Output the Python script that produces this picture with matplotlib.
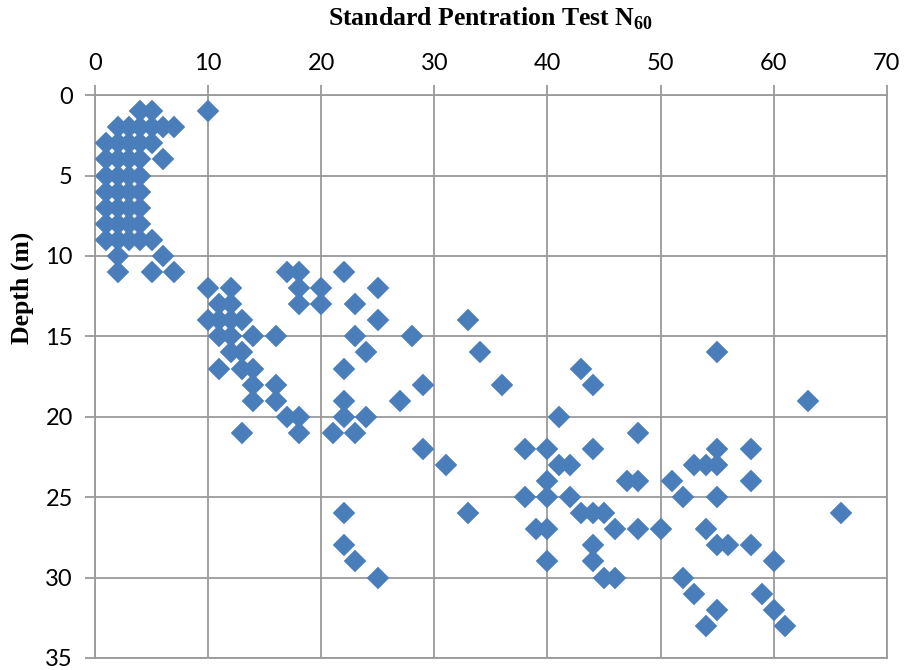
import matplotlib
matplotlib.use("Agg")
import matplotlib.pyplot as plt
from matplotlib import font_manager

# SPT N60 values, grouped by depth (m)
depth = [1, 1, 1,
         2, 2, 2, 2, 2, 2,
         3, 3, 3, 3, 3,
         4, 4, 4, 4, 4,
         5, 5, 5, 5,
         6, 6, 6, 6,
         7, 7, 7, 7,
         8, 8, 8, 8,
         9, 9, 9, 9, 9,
         10, 10,
         11, 11, 11, 11, 11, 11,
         12, 12, 12, 12, 12,
         13, 13, 13, 13, 13,
         14, 14, 14, 14, 14, 14,
         15, 15, 15, 15, 15, 15,
         16, 16, 16, 16, 16,
         17, 17, 17, 17, 17,
         18, 18, 18, 18, 18,
         19, 19, 19, 19, 19,
         20, 20, 20, 20, 20,
         21, 21, 21, 21, 21,
         22, 22, 22, 22, 22, 22,
         23, 23, 23, 23, 23, 23,
         24, 24, 24, 24, 24,
         25, 25, 25, 25, 25,
         26, 26, 26, 26, 26, 26,
         27, 27, 27, 27, 27, 27,
         28, 28, 28, 28, 28,
         29, 29, 29, 29,
         30, 30, 30, 30,
         31, 31,
         32, 32,
         33, 33]
n60 = [4, 5, 10,
       2, 3, 4, 5, 6, 7,
       1, 2, 3, 4, 5,
       1, 2, 3, 4, 6,
       1, 2, 3, 4,
       1, 2, 3, 4,
       1, 2, 3, 4,
       1, 2, 3, 4,
       1, 2, 3, 4, 5,
       2, 6,
       2, 5, 7, 17, 18, 22,
       10, 12, 18, 20, 25,
       11, 12, 18, 20, 23,
       10, 11, 12, 13, 25, 33,
       11, 12, 14, 16, 23, 28,
       12, 13, 24, 34, 55,
       11, 13, 14, 22, 43,
       14, 16, 29, 36, 44,
       14, 16, 22, 27, 63,
       17, 18, 22, 24, 41,
       13, 18, 21, 23, 48,
       29, 38, 40, 44, 55, 58,
       31, 41, 42, 53, 54, 55,
       40, 47, 48, 51, 58,
       38, 40, 42, 52, 55,
       22, 33, 43, 44, 45, 66,
       39, 40, 46, 48, 50, 54,
       22, 44, 55, 56, 58,
       23, 40, 44, 60,
       25, 45, 46, 52,
       53, 59,
       55, 60,
       54, 61]

x_ticks = [0, 10, 20, 30, 40, 50, 60, 70]
y_ticks = [0, 5, 10, 15, 20, 25, 30, 35]


def pick_font(names):
    have = {f.name for f in font_manager.fontManager.ttflist}
    for n in names:
        if n in have:
            return n
    return "DejaVu Sans"


tick_font = pick_font(["Lato", "Liberation Sans", "DejaVu Sans"])
serif_font = pick_font(["Liberation Serif", "DejaVu Serif"])

plt.rcParams["mathtext.fontset"] = "custom"
plt.rcParams["mathtext.rm"] = serif_font
plt.rcParams["mathtext.bf"] = serif_font + ":bold"

grid_col = "#9a9a9a"
blue = "#4a7ebb"

fig = plt.figure(figsize=(9.09, 6.70), dpi=100)
ax = fig.add_axes([0.1045, 0.018, 0.871, 0.840])

ax.plot(n60, depth, ls="none", marker="D", ms=11.5, color=blue,
        markeredgecolor=blue, markeredgewidth=0.3, zorder=3)

ax.set_xlim(0, 70)
ax.set_ylim(35, 0)
ax.set_xticks(x_ticks)
ax.set_yticks(y_ticks)
ax.xaxis.tick_top()
ax.grid(True, color=grid_col, lw=1.3)
ax.set_axisbelow(True)
for s in ax.spines.values():
    s.set_color(grid_col)
    s.set_linewidth(1.3)
ax.tick_params(axis="both", colors=grid_col, length=7, width=1.3,
               labelcolor="black", labelsize=17)
ax.tick_params(axis="x", pad=8)
ax.tick_params(axis="y", pad=9)
for lab in ax.get_xticklabels() + ax.get_yticklabels():
    lab.set_family(tick_font)

fig.text(0.54, 0.972, r"Standard Pentration Test N$_{\mathbf{60}}$",
         ha="center", va="center", fontsize=18.5, fontweight="bold",
         family=serif_font)
fig.text(0.024, 0.57, "Depth (m)", rotation=90, ha="center", va="center",
         fontsize=18.5, fontweight="bold", family=serif_font)

fig.savefig("out.png", dpi=100)
